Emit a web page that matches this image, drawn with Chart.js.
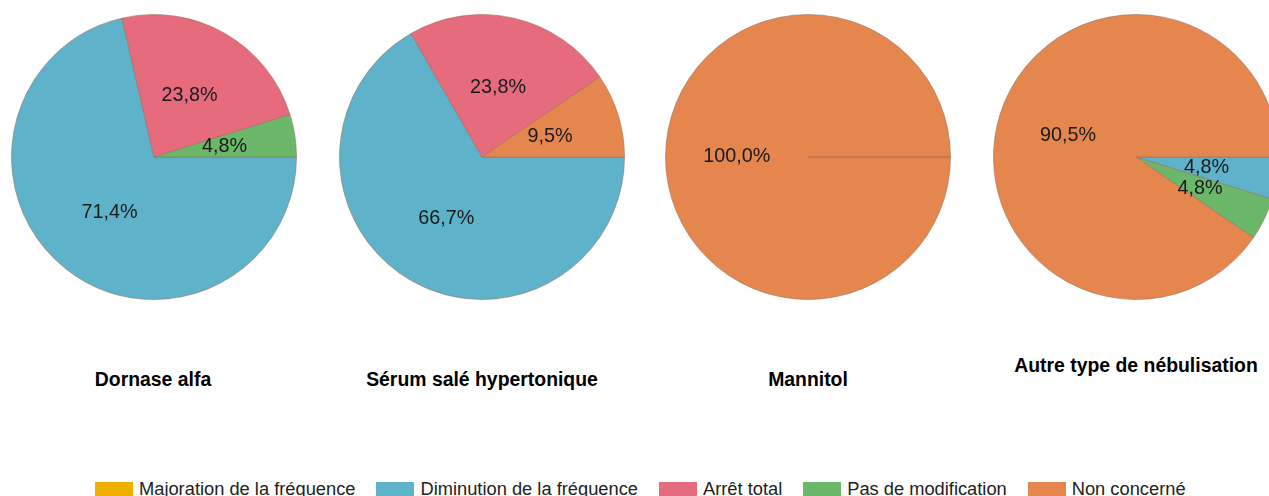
<!DOCTYPE html>
<html><head><meta charset="utf-8">
<script src="https://cdn.jsdelivr.net/npm/chart.js@4"></script>
<style>
html,body{margin:0;padding:0;background:#fff;width:1269px;height:496px;overflow:hidden;position:relative;font-family:"Liberation Sans",Arial,sans-serif;}
.pie{position:absolute;top:0;width:308px;height:314px;}
.ttl{position:absolute;width:400px;text-align:center;font-weight:bold;font-size:19.4px;color:#000;}
#legend{position:absolute;left:95px;top:478px;display:flex;align-items:center;font-size:18.3px;color:#222;white-space:nowrap;}
#legend .it{display:flex;align-items:center;margin-right:21px;}
#legend .bx{width:38px;height:15px;margin-right:6px;}
</style></head>
<body>
<div class="pie" style="left:0px"><canvas id="c0"></canvas></div>
<div class="pie" style="left:328px"><canvas id="c1"></canvas></div>
<div class="pie" style="left:654px"><canvas id="c2"></canvas></div>
<div class="pie" style="left:982px"><canvas id="c3"></canvas></div>
<div class="ttl" id="t0" style="left:-47px;top:368px"></div>
<div class="ttl" id="t1" style="left:282px;top:368px"></div>
<div class="ttl" id="t2" style="left:608px;top:368px"></div>
<div class="ttl" id="t3" style="left:936px;top:354px"></div>
<div id="legend"></div>
<script>
const categories = ["Majoration de la fréquence","Diminution de la fréquence","Arrêt total","Pas de modification","Non concerné"];
const colors = ["#F0B000","#5EB3CB","#E56B7D","#6BB86B","#E6864F"];
const titles = ["Dornase alfa","Sérum salé hypertonique","Mannitol","Autre type de nébulisation"];
const dornase = [0,71.4,23.8,4.8,0];
const serum = [0,66.7,23.8,0,9.5];
const mannitol = [0,0,0,0,100.0];
const autre = [0,4.8,0,4.8,90.5];
const seriesList = [dornase, serum, mannitol, autre];

const labelPlugin = {
  id:'sliceLabels',
  afterDatasetsDraw(chart){
    const ctx = chart.ctx;
    const meta = chart.getDatasetMeta(0);
    const data = chart.data.datasets[0].data;
    ctx.save();
    ctx.font = '19.8px "Liberation Sans", Arial, sans-serif';
    ctx.fillStyle = '#1a1a1a';
    ctx.textAlign = 'center';
    ctx.textBaseline = 'middle';
    meta.data.forEach((arc,i)=>{
      if(!data[i]) return;
      const p = arc.getProps(['x','y','startAngle','endAngle','outerRadius'],true);
      const mid = (p.startAngle+p.endAngle)/2;
      const r = p.outerRadius/2;
      ctx.fillText(data[i].toFixed(1).replace('.',',')+'%', p.x+Math.cos(mid)*r, p.y+Math.sin(mid)*r);
    });
    ctx.restore();
  }
};

seriesList.forEach((vals,k)=>{
  document.getElementById('t'+k).textContent = titles[k];
  new Chart(document.getElementById('c'+k),{
    type:'pie',
    data:{labels:categories,datasets:[{data:vals,backgroundColor:colors,borderColor:'rgba(150,110,90,0.55)',borderWidth:1}]},
    options:{
      responsive:true,maintainAspectRatio:false,animation:false,
      rotation:90,
      layout:{padding:11},
      plugins:{legend:{display:false},tooltip:{enabled:false},title:{display:false}}
    },
    plugins:[labelPlugin]
  });
});

const lg = document.getElementById('legend');
categories.forEach((c,i)=>{
  const it=document.createElement('div');it.className='it';
  const b=document.createElement('div');b.className='bx';b.style.background=colors[i];
  const s=document.createElement('span');s.textContent=c;
  it.appendChild(b);it.appendChild(s);lg.appendChild(it);
});
</script>
</body></html>
